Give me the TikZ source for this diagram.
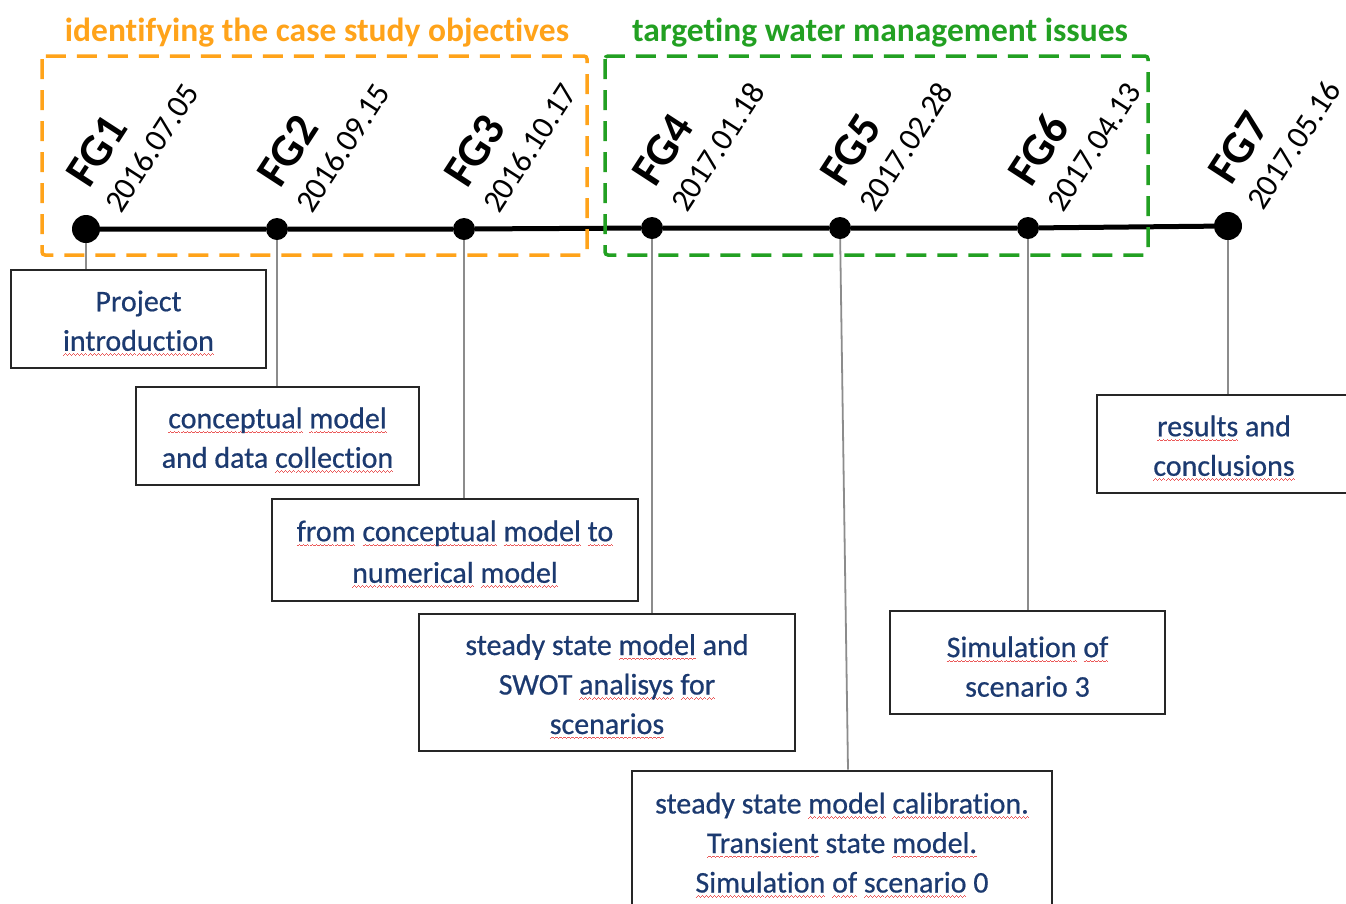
\documentclass[tikz,border=0pt]{standalone}
\usepackage{fontspec}
\setmainfont{Carlito}[Ligatures={NoCommon,NoContextual}]
\newfontfamily\boxfont{Carlito}[Ligatures={NoCommon,NoContextual},FakeBold=0.6]
\usetikzlibrary{calc}
\definecolor{orng}{RGB}{255,163,26}
\definecolor{grn}{RGB}{34,160,34}
\definecolor{txtblue}{RGB}{28,58,112}
\definecolor{squig}{RGB}{235,90,90}
\newsavebox\sqbox
\newcommand\wavepiece{\hbox{\rule[0pt]{1pt}{0.9pt}\rule[0.7pt]{1pt}{0.9pt}\rule[1.4pt]{1pt}{0.9pt}\rule[0.7pt]{1pt}{0.9pt}}}
\newcommand\sqw[1]{\sbox\sqbox{#1}\leavevmode\rlap{\raisebox{-5pt}{\hbox to \wd\sqbox{\color{squig}\xleaders\wavepiece\hfil}}}\usebox\sqbox}
\newcommand\tstrut{\rule{0pt}{29pt}}
\begin{document}
\begin{tikzpicture}[x=1pt,y=-1pt,
  box/.style={draw=black!85, line width=2.6pt, fill=white, inner sep=0pt, align=center,
    text=txtblue, font=\boxfont\fontsize{30}{39.5}\selectfont},
  conn/.style={draw=black!45, line width=1.8pt},
  dot/.style={circle, fill=black, inner sep=0pt, minimum size=#1},
  fglab/.style={rotate=57, anchor=base west, inner sep=0pt, font=\fontsize{46}{46}\selectfont\bfseries},
  datelab/.style={rotate=57, anchor=base west, inner sep=0pt, font=\fontsize{32}{32}\selectfont},
  phase/.style={anchor=base, inner sep=0pt, font=\fontsize{33.5}{33.5}\selectfont\bfseries},
  phasebox/.style={line width=3.5pt, dash pattern=on 20pt off 11pt, rounded corners=3pt}
]
\useasboundingbox (0,0) rectangle (1346,903);
\fill[white] (0,0) rectangle (1346,903);
\clip (0,0) rectangle (1346,903);

% milestones
\node[dot=28] (d1) at (86,229) {};
\node[dot=22] (d2) at (277,229) {};
\node[dot=22] (d3) at (464,229) {};
\node[dot=22] (d4) at (652,228) {};
\node[dot=22] (d5) at (840,228) {};
\node[dot=22] (d6) at (1028,228) {};
\node[dot=28] (d7) at (1228,226) {};

% boxes
\node[box, minimum width=255pt, minimum height=98pt] (b1) at (138.5,319) {\tstrut Project\\\sqw{introduction}};
\node[box, minimum width=283pt, minimum height=98pt] (b2) at (277.5,436) {\tstrut\sqw{conceptual} \sqw{model}\\and data \sqw{collection}};
\node[box, minimum width=366pt, minimum height=102pt] (b3) at (455,550) {\tstrut\sqw{from} \sqw{conceptual} \sqw{model} \sqw{to}\\[2pt]\sqw{numerical} \sqw{model}};
\node[box, minimum width=376pt, minimum height=137pt] (b4) at (607,682.5) {\tstrut steady state \sqw{model} and\\SWOT \sqw{analisys} \sqw{for}\\\sqw{scenarios}};
\node[box, minimum width=420pt, minimum height=140pt] (b5) at (842,841) {\tstrut steady state \sqw{model} \sqw{calibration.}\\\sqw{Transient} state \sqw{model.}\\\sqw{Simulation} \sqw{of} \sqw{scenario} 0};
\node[box, minimum width=275pt, minimum height=103pt] (b6) at (1027.5,662.5) {\tstrut\sqw{Simulation} \sqw{of}\\scenario 3};
\node[box, minimum width=254pt, minimum height=98pt] (b7) at (1224,444) {\tstrut\sqw{results} and\\\sqw{conclusions}};

% connectors
\draw[conn] (d1) -- (d1 |- b1.north);
\draw[conn] (d2) -- (d2 |- b2.north);
\draw[conn] (d3) -- (d3 |- b3.north);
\draw[conn] (d4) -- (d4 |- b4.north);
\draw[conn] (d5) -- ([xshift=6pt]b5.north);
\draw[conn] (d6) -- (d6 |- b6.north);
\draw[conn] (d7) -- (d7 |- b7.north);

% timeline
\draw[line width=5pt] (d1) -- (d2) -- (d3) -- (d4) -- (d5) -- (d6) -- (d7);

% labels
\foreach \i/\dt in {1/2016.07.05,2/2016.09.15,3/2016.10.17,4/2017.01.18,5/2017.02.28,6/2017.04.13,7/2017.05.16}{
  \node[fglab] (fg\i) at ($(d\i)+(3,-39)$) {FG\i};
  \node[datelab] (dt\i) at ($(d\i)+(35,-14)$) {\dt};
}

% phases
\draw[orng, phasebox] (42,56) rectangle (587,255);
\draw[grn, phasebox] (605,56) rectangle (1148,255);
\node[phase, text=orng] (p1) at (317,41) {identifying the case study objectives};
\node[phase, text=grn] (p2) at (880,41) {targeting water management issues};
\end{tikzpicture}
\end{document}
